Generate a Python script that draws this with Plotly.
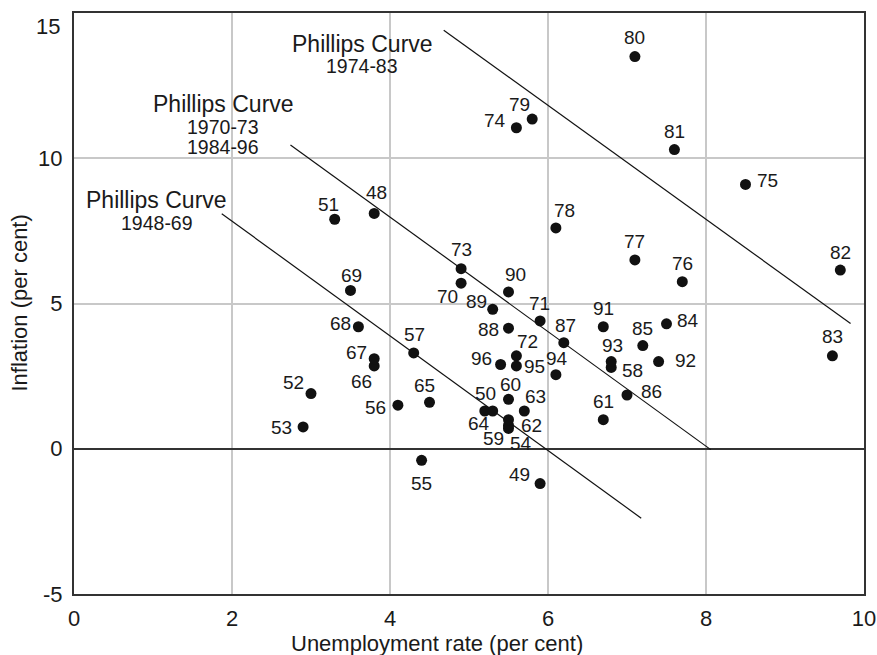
import plotly.graph_objects as go

# ---- data ----
years = ["48", "49", "50", "51", "52", "53", "54", "55", "56", "57", "58", "59",
         "60", "61", "62", "63", "64", "65", "66", "67", "68", "69", "70", "71",
         "72", "73", "74", "75", "76", "77", "78", "79", "80", "81", "82", "83",
         "84", "85", "86", "87", "88", "89", "90", "91", "92", "93", "94", "95", "96"]
unemployment = [3.8, 5.9, 5.2, 3.3, 3.0, 2.9, 5.5, 4.4, 4.1, 4.3, 6.8, 5.5,
                5.5, 6.7, 5.5, 5.7, 5.3, 4.5, 3.8, 3.8, 3.6, 3.5, 4.9, 5.9,
                5.6, 4.9, 5.6, 8.5, 7.7, 7.1, 6.1, 5.8, 7.1, 7.6, 9.7, 9.6,
                7.5, 7.2, 7.0, 6.2, 5.5, 5.3, 5.5, 6.7, 7.4, 6.8, 6.1, 5.6, 5.4]
inflation = [8.1, -1.2, 1.3, 7.9, 1.9, 0.75, 0.7, -0.4, 1.5, 3.3, 2.8, 0.8,
             1.7, 1.0, 1.0, 1.3, 1.3, 1.6, 2.85, 3.1, 4.2, 5.45, 5.7, 4.4,
             3.2, 6.2, 11.05, 9.1, 5.75, 6.5, 7.6, 11.35, 13.5, 10.3, 6.15, 3.2,
             4.3, 3.55, 1.85, 3.65, 4.15, 4.8, 5.4, 4.2, 3.0, 3.0, 2.55, 2.85, 2.9]

# Phillips curve segments (unemployment, inflation endpoints)
curve_names = ["1948-69", "1970-73 / 1984-96", "1974-83"]
curve_u = [[1.87, 7.18], [2.74, 8.06], [4.68, 9.83]]
curve_pi = [[8.09, -2.39], [10.46, -0.03], [14.41, 4.31]]

x_ticks = [0, 2, 4, 6, 8, 10]
y_ticks = [-5, 0, 5, 10, 15]

# ---- label placement (pixel offsets: dx right, dy down) ----
label_offsets = {
    "48": (2, -21), "49": (-21, -9), "50": (1, -17), "51": (-6, -15),
    "52": (-18, -11), "53": (-22, 1), "54": (12, 15), "55": (0, 23),
    "56": (-22, 2), "57": (1, -18), "58": (21, 3), "59": (-15, 13),
    "60": (2, -15), "61": (0, -18), "62": (23, 6), "63": (11, -14),
    "64": (-14, 13), "65": (-5, -17), "66": (-13, 16), "67": (-18, -6),
    "68": (-18, -3), "69": (1, -15), "70": (-14, 13), "71": (-1, -17),
    "72": (11, -14), "73": (0, -19), "74": (-21, -7), "75": (22, -4),
    "76": (0, -18), "77": (0, -18), "78": (9, -17), "79": (-13, -15),
    "80": (0, -19), "81": (0, -18), "82": (0, -18), "83": (0, -19),
    "84": (21, -3), "85": (0, -17), "86": (24, -4), "87": (2, -17),
    "88": (-20, 1), "89": (-16, -8), "90": (7, -17), "91": (0, -18),
    "92": (27, -1), "93": (1, -16), "94": (1, -16), "95": (18, 1),
    "96": (-19, -6),
}

FONT = "Liberation Sans, Arial, sans-serif"
TXT = "#1a1a1a"

fig = go.Figure()

for name, xs, ys in zip(curve_names, curve_u, curve_pi):
    fig.add_trace(go.Scatter(x=xs, y=ys, mode="lines", name=name,
                             line=dict(color="#111111", width=1.2),
                             hoverinfo="skip", showlegend=False, cliponaxis=False))

fig.add_trace(go.Scatter(x=unemployment, y=inflation, mode="markers",
                         marker=dict(color="#111111", size=11),
                         text=years, showlegend=False))

for yr, u, p in zip(years, unemployment, inflation):
    dx, dy = label_offsets[yr]
    fig.add_annotation(x=u, y=p, text=yr, showarrow=False, xshift=dx, yshift=-dy,
                       font=dict(family=FONT, size=19, color=TXT))

# curve labels
curve_labels = [
    (3.65, 13.95, "Phillips Curve", 23), (3.65, 13.19, "1974-83", 19.5),
    (1.89, 11.87, "Phillips Curve", 23), (1.89, 11.07, "1970-73", 19.5),
    (1.89, 10.38, "1984-96", 19.5),
    (1.05, 8.55, "Phillips Curve", 23), (1.05, 7.77, "1948-69", 19.5),
]
for lx, ly, t, s in curve_labels:
    fig.add_annotation(x=lx, y=ly, text=t, showarrow=False,
                       font=dict(family=FONT, size=s, color=TXT))

# top y tick label sits just below the frame corner
y_ticktext = [str(v) for v in y_ticks]
top_label = y_ticktext[-1]
y_ticktext[-1] = ""
fig.add_annotation(xref="paper", yref="y", x=0, y=y_ticks[-1], xanchor="right",
                   yanchor="middle", xshift=-12, yshift=-13, text=top_label,
                   showarrow=False, font=dict(family=FONT, size=22, color=TXT))

# axis titles
fig.add_annotation(xref="paper", yref="paper", x=0.46, y=0, yshift=-49,
                   text="Unemployment rate (per cent)", showarrow=False,
                   yanchor="middle", font=dict(family=FONT, size=22, color=TXT))
fig.add_annotation(xref="paper", yref="paper", x=0, y=0.5, xshift=-55,
                   text="Inflation (per cent)", textangle=-90, showarrow=False,
                   xanchor="center", font=dict(family=FONT, size=22, color=TXT))

fig.update_xaxes(range=[0, 10], tickvals=x_ticks, ticktext=[str(v) for v in x_ticks],
                 showgrid=True, gridcolor="#c8c8c8", gridwidth=1.5,
                 showline=True, linecolor="#333333", linewidth=2, mirror=True,
                 zeroline=False, ticks="", automargin=False, ticklabelstandoff=4,
                 tickfont=dict(family=FONT, size=22, color=TXT))
fig.update_yaxes(range=[-5, 15], tickvals=y_ticks, ticktext=y_ticktext,
                 showgrid=True, gridcolor="#c8c8c8", gridwidth=1.5,
                 showline=True, linecolor="#333333", linewidth=2, mirror=True,
                 zeroline=True, zerolinecolor="#333333", zerolinewidth=2,
                 ticks="", automargin=False, ticklabelstandoff=5,
                 tickfont=dict(family=FONT, size=22, color=TXT))

fig.update_layout(width=877, height=655, plot_bgcolor="white", paper_bgcolor="white",
                  margin=dict(l=74, r=13, t=13, b=61), showlegend=False,
                  font=dict(family=FONT, color=TXT))

fig.write_html("out.html", config={"displayModeBar": False},
               post_script="document.body.style.margin='0';document.body.style.overflow='hidden';")
